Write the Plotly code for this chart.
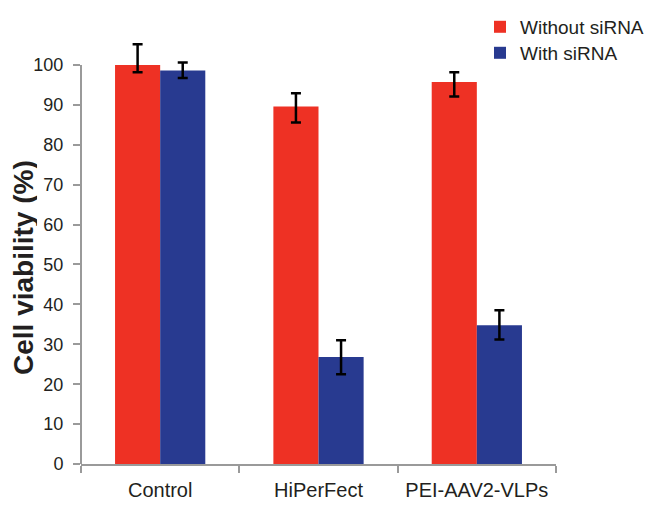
import plotly.graph_objects as go

categories = ["Control", "HiPerFect", "PEI-AAV2-VLPs"]
without_sirna = [100.0, 89.6, 95.7]
without_err_plus = [5.2, 3.3, 2.5]
without_err_minus = [1.8, 4.0, 3.6]
with_sirna = [98.6, 26.8, 34.8]
with_err_plus = [2.0, 4.2, 3.7]
with_err_minus = [1.9, 4.3, 3.6]
y_ticks = [0, 10, 20, 30, 40, 50, 60, 70, 80, 90, 100]

red = "#EE3124"
blue = "#283A90"
axis_gray = "#9A9A9A"
text_col = "#231F20"

OFF = 8  # page body margin offset
W, H = 659 - OFF, 509 - OFF
L = 81 - OFF
R = W - (556 - OFF)
B = H - (464 - OFF)
Y_MAX = 106
plot_h = (464 - 65) / 100 * Y_MAX
T = H - B - plot_h
plot_w = W - L - R

def py(ref_px):
    return (H - B - (ref_px - OFF)) / plot_h

def px(ref_px):
    return ((ref_px - OFF) - L) / plot_w

fig = go.Figure()
fig.add_trace(go.Bar(
    x=categories, y=without_sirna, name="Without siRNA",
    marker=dict(color=red, line=dict(width=0)),
    error_y=dict(type="data", symmetric=False, array=without_err_plus,
                 arrayminus=without_err_minus, color="black", thickness=2.5, width=5),
    legend="legend",
))
fig.add_trace(go.Bar(
    x=categories, y=with_sirna, name="With siRNA",
    marker=dict(color=blue, line=dict(width=0)),
    error_y=dict(type="data", symmetric=False, array=with_err_plus,
                 arrayminus=with_err_minus, color="black", thickness=2.5, width=5),
    legend="legend2",
))

leg_common = dict(xanchor="left", yanchor="top", font=dict(size=19, color=text_col),
                  bgcolor="rgba(0,0,0,0)", itemwidth=30, borderwidth=0)

fig.update_layout(
    width=W, height=H,
    margin=dict(l=L, r=R, t=T, b=B, autoexpand=False),
    paper_bgcolor="white", plot_bgcolor="white",
    barmode="group", bargap=0.43, bargroupgap=0,
    font=dict(family="Liberation Sans, Arial, sans-serif", size=18, color=text_col),
    legend=dict(x=px(480), y=py(OFF), **leg_common),
    legend2=dict(x=px(480), y=py(34), **leg_common),
    showlegend=True,
    xaxis=dict(showline=True, linecolor=axis_gray, linewidth=2,
               ticks="outside", tickson="boundaries", ticklen=7, tickcolor=axis_gray,
               tickwidth=2, showgrid=False, zeroline=False,
               tickfont=dict(size=20, color=text_col), ticklabelstandoff=7),
    yaxis=dict(range=[0, Y_MAX], tickvals=y_ticks, showline=False,
               ticks="outside", ticklen=7, tickcolor=axis_gray, tickwidth=2,
               showgrid=False, zeroline=False, tickfont=dict(size=18, color=text_col),
               ticklabelstandoff=6),
    shapes=[dict(type="line", xref="paper", yref="y", x0=0, x1=0, y0=0, y1=100,
                 line=dict(color=axis_gray, width=2))],
    annotations=[dict(text="<b>Cell viability (%)</b>", xref="paper", yref="paper",
                      x=px(23), y=py(268), textangle=-90, height=28,
                      showarrow=False, xanchor="center", yanchor="middle",
                      font=dict(size=28, color=text_col))],
)

fig.write_html("out.html")
